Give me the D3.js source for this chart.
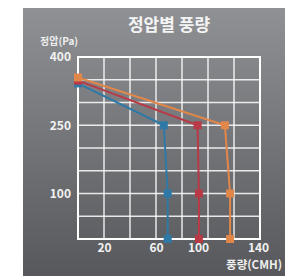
<!DOCTYPE html>
<html>
<head>
<meta charset="utf-8">
<script src="https://cdn.jsdelivr.net/npm/d3@7"></script>
<style>
  body { margin: 0; background: #fff; }
  text { font-family: "Noto Sans CJK KR", "Noto Sans", sans-serif; font-weight: 700; }
</style>
</head>
<body>
<div id="chart"></div>
<script>
// 정압(Pa) 단계
const pressures = [350, 250, 100, 0];
// 풍량(CMH) — 세 모델
const seriesNames = ["A", "B", "C"];
const flowBlue = [0, 66, 69, 69];
const flowRed = [0, 92, 93, 93];
const flowOrange = [0, 113, 117, 117];
const startPressure = [342, 348, 355];
const seriesColors = ["#2f79a6", "#b73a46", "#e2874a"];

const xTicks = [20, 60, 100, 140];
const yTicks = [400, 250, 100];

const W = 285, H = 276;
const margin = { top: 57, right: 25, bottom: 37, left: 78 };
const width = W - margin.left - margin.right,
      height = H - margin.top - margin.bottom;

const svg = d3.select("#chart").append("svg")
  .attr("width", W).attr("height", H);

const defs = svg.append("defs");
const grad = defs.append("linearGradient")
  .attr("id", "bg").attr("x1", 0).attr("y1", 0).attr("x2", 0).attr("y2", 1);
grad.append("stop").attr("offset", "0%").attr("stop-color", "#909195");
grad.append("stop").attr("offset", "100%").attr("stop-color", "#57585b");

svg.append("rect")
  .attr("x", 23).attr("y", 8)
  .attr("width", W - 23).attr("height", H - 8)
  .attr("fill", "url(#bg)");

svg.append("text")
  .attr("x", 169).attr("y", 31)
  .attr("text-anchor", "middle")
  .attr("fill", "#f4f4f4")
  .style("font-size", "17px")
  .text("정압별 풍량");

svg.append("text")
  .attr("x", 40).attr("y", 45)
  .attr("fill", "#eeeeee")
  .style("font-size", "10px")
  .text("정압(Pa)");

svg.append("text")
  .attr("x", 282).attr("y", 269)
  .attr("text-anchor", "end")
  .attr("fill", "#eeeeee")
  .style("font-size", "11.5px")
  .text("풍량(CMH)");

const g = svg.append("g")
  .attr("transform", `translate(${margin.left},${margin.top})`);

const x = d3.scaleLinear().domain([0, 140]).range([0, width]);
const y = d3.scaleLinear().domain([0, 400]).range([height, 0]);

// grid
g.append("g")
  .selectAll("line.v")
  .data(d3.range(20, 140, 20))
  .enter().append("line")
  .attr("x1", d => x(d)).attr("x2", d => x(d))
  .attr("y1", 0).attr("y2", height)
  .attr("stroke", "#ffffff").attr("stroke-opacity", 0.85)
  .attr("stroke-width", 1.5);

g.append("g")
  .selectAll("line.h")
  .data(d3.range(50, 400, 50))
  .enter().append("line")
  .attr("x1", 0).attr("x2", width)
  .attr("y1", d => y(d)).attr("y2", d => y(d))
  .attr("stroke", "#ffffff").attr("stroke-opacity", 0.85)
  .attr("stroke-width", 1.5);

g.append("rect")
  .attr("width", width).attr("height", height)
  .attr("fill", "none")
  .attr("stroke", "#ffffff").attr("stroke-width", 2);

// axes labels
const yAxis = g.append("g")
  .call(d3.axisLeft(y).tickValues(yTicks).tickSize(0).tickPadding(7));
yAxis.select(".domain").remove();
yAxis.selectAll("text")
  .attr("fill", "#f2f2f2")
  .style("font-size", "12px");

const xAxis = g.append("g")
  .attr("transform", `translate(0,${height})`)
  .call(d3.axisBottom(x).tickValues(xTicks).tickSize(0).tickPadding(4));
xAxis.select(".domain").remove();
xAxis.selectAll("text")
  .attr("fill", "#f2f2f2")
  .attr("dx", d => d === 100 ? -10 : (d === 140 ? -2 : 0))
  .style("font-size", "12px");

// series
const flows = [flowBlue, flowRed, flowOrange];
const series = seriesNames.map((name, i) => ({
  name,
  color: seriesColors[i],
  points: flows[i].map((f, j) => ({ f, p: j === 0 ? startPressure[i] : pressures[j] }))
}));

const line = d3.line().x(d => x(d.f)).y(d => y(d.p));

series.forEach(s => {
  g.append("path")
    .datum(s.points)
    .attr("fill", "none")
    .attr("stroke", s.color)
    .attr("stroke-width", 2)
    .attr("d", line);
});

series.forEach(s => {
  g.selectAll(null)
    .data(s.points)
    .enter().append("rect")
    .attr("x", d => x(d.f) - 4)
    .attr("y", d => y(d.p) - 4)
    .attr("width", 8).attr("height", 8)
    .attr("fill", s.color);
});
</script>
</body>
</html>
